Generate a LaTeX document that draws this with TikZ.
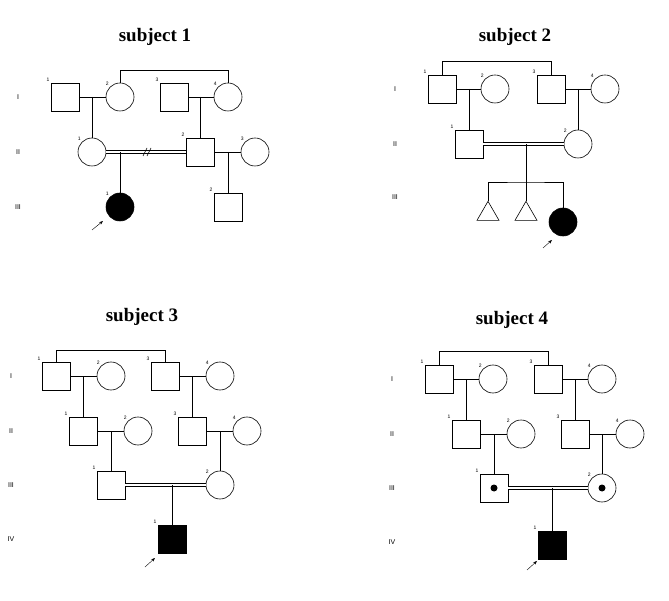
\documentclass[tikz,border=0pt]{standalone}
\usepackage{fontspec}
\setmainfont{Liberation Serif}
\setsansfont{Liberation Sans}
\usetikzlibrary{arrows.meta}
\usetikzlibrary{positioning}
\usetikzlibrary{shapes.geometric}
\tikzset{
  male/.style={draw,rectangle,minimum size=28pt,inner sep=0pt},
  female/.style={draw,circle,minimum size=28pt,inner sep=0pt},
  affected/.style={fill=black},
  carrier/.style={path picture={\fill (path picture bounding box.center) circle (3.5pt);}},
  twin/.style={draw,isosceles triangle,isosceles triangle apex angle=60,shape border rotate=90,minimum width=22pt,minimum height=11pt,inner sep=0pt},
  num/.style={font=\sffamily\fontsize{5}{5}\selectfont,inner sep=1pt},
  nr/.style={label={[num]135:#1}},
  gen/.style={font=\sffamily\fontsize{7}{7}\selectfont},
  title/.style={font=\bfseries\fontsize{19}{19}\selectfont},
  mating/.style={double,double distance=2pt},
  proband/.style={-{Stealth[length=4pt,width=3pt]},thin}
}
\begin{document}
\begin{tikzpicture}[x=1pt,y=-1pt,line width=0.6pt]
  \useasboundingbox (0,0) rectangle (669,601);
  % subject 1
  \node[title] (t1) at (155,37) {subject 1};
  \node[gen] (g1a) at (18,97) {I};
  \node[gen] (g1b) at (18,152) {II};
  \node[gen] (g1c) at (18,207) {III};
  \node[male,nr=1] (a11) at (65,97) {};
  \node[female,nr=2] (a12) at (120,97) {};
  \node[male,nr=3] (a13) at (174,97) {};
  \node[female,nr=4] (a14) at (228,97) {};
  \node[female,nr=1] (a21) at (92,152) {};
  \node[male,nr=2] (a22) at (200,152) {};
  \node[female,nr=3] (a23) at (255,152) {};
  \node[female,affected,nr=1] (a31) at (120,207) {};
  \node[male,nr=2] (a32) at (228,207) {};
  \draw (a12.north) |- (120,70) -| (a14.north);
  \draw (a11) -- (a12);
  \draw (a13) -- (a14);
  \draw (92,97) -- (a21.north);
  \draw (200,97) -- (a22.north);
  \draw[mating] (a21) -- (a22);
  \draw (143,156) -- (147,148) (147,156) -- (151,148);
  \draw (120,152) -- (a31.north);
  \draw (a22) -- (a23);
  \draw (228,152) -- (a32.north);
  \draw[proband] (92,230) -- (103,221);
  % subject 2
  \node[title] (t2) at (515,37) {subject 2};
  \node[gen] (g2a) at (395,89) {I};
  \node[gen] (g2b) at (395,144) {II};
  \node[gen] (g2c) at (395,197) {III};
  \node[male,nr=1] (b11) at (442,89) {};
  \node[female,nr=2] (b12) at (495,89) {};
  \node[male,nr=3] (b13) at (551,89) {};
  \node[female,nr=4] (b14) at (605,89) {};
  \node[male,nr=1] (b21) at (469,144) {};
  \node[female,nr=2] (b22) at (578,144) {};
  \node[twin] (b31) at (488,214) {};
  \node[twin] (b32) at (526,214) {};
  \node[female,affected] (b33) at (563,222) {};
  \draw (b11.north) |- (442,61) -| (b13.north);
  \draw (b11) -- (b12);
  \draw (b13) -- (b14);
  \draw (469,89) -- (b21.north);
  \draw (578,89) -- (b22.north);
  \draw[mating] (b21) -- (b22);
  \draw (526,144) -- (526,182);
  \draw (b31.apex) |- (526,182) -| (b33.north);
  \draw (b32.apex) -- (526,182);
  \draw[proband] (543,248) -- (552,240);
  % subject 3
  \node[title] (t3) at (142,317) {subject 3};
  \node[gen] (g3a) at (11,376) {I};
  \node[gen] (g3b) at (11,431) {II};
  \node[gen] (g3c) at (11,485) {III};
  \node[gen] (g3d) at (11,539) {IV};
  \node[male,nr=1] (c11) at (56,376) {};
  \node[female,nr=2] (c12) at (111,376) {};
  \node[male,nr=3] (c13) at (165,376) {};
  \node[female,nr=4] (c14) at (220,376) {};
  \node[male,nr=1] (c21) at (83,431) {};
  \node[female,nr=2] (c22) at (138,431) {};
  \node[male,nr=3] (c23) at (192,431) {};
  \node[female,nr=4] (c24) at (247,431) {};
  \node[male,nr=1] (c31) at (111,485) {};
  \node[female,nr=2] (c32) at (220,485) {};
  \node[male,affected,nr=1] (c41) at (172,539) {};
  \draw (c11.north) |- (56,350) -| (c13.north);
  \draw (c11) -- (c12);
  \draw (c13) -- (c14);
  \draw (83,376) -- (c21.north);
  \draw (192,376) -- (c23.north);
  \draw (c21) -- (c22);
  \draw (c23) -- (c24);
  \draw (111,431) -- (c31.north);
  \draw (220,431) -- (c32.north);
  \draw[mating] (c31) -- (c32);
  \draw (172,485) -- (c41.north);
  \draw[proband] (145,567) -- (155,558);
  % subject 4
  \node[title] (t4) at (512,320) {subject 4};
  \node[gen] (g4a) at (392,379) {I};
  \node[gen] (g4b) at (392,434) {II};
  \node[gen] (g4c) at (392,488) {III};
  \node[gen] (g4d) at (392,542) {IV};
  \node[male,nr=1] (d11) at (439,379) {};
  \node[female,nr=2] (d12) at (493,379) {};
  \node[male,nr=3] (d13) at (548,379) {};
  \node[female,nr=4] (d14) at (602,379) {};
  \node[male,nr=1] (d21) at (466,434) {};
  \node[female,nr=2] (d22) at (521,434) {};
  \node[male,nr=3] (d23) at (575,434) {};
  \node[female,nr=4] (d24) at (630,434) {};
  \node[male,carrier,nr=1] (d31) at (494,488) {};
  \node[female,carrier,nr=2] (d32) at (602,488) {};
  \node[male,affected,nr=1] (d41) at (552,545) {};
  \draw (d11.north) |- (439,351) -| (d13.north);
  \draw (d11) -- (d12);
  \draw (d13) -- (d14);
  \draw (466,379) -- (d21.north);
  \draw (575,379) -- (d23.north);
  \draw (d21) -- (d22);
  \draw (d23) -- (d24);
  \draw (494,434) -- (d31.north);
  \draw (602,434) -- (d32.north);
  \draw[mating] (d31) -- (d32);
  \draw (552,488) -- (d41.north);
  \draw[proband] (527,570) -- (537,561);
\end{tikzpicture}
\end{document}
